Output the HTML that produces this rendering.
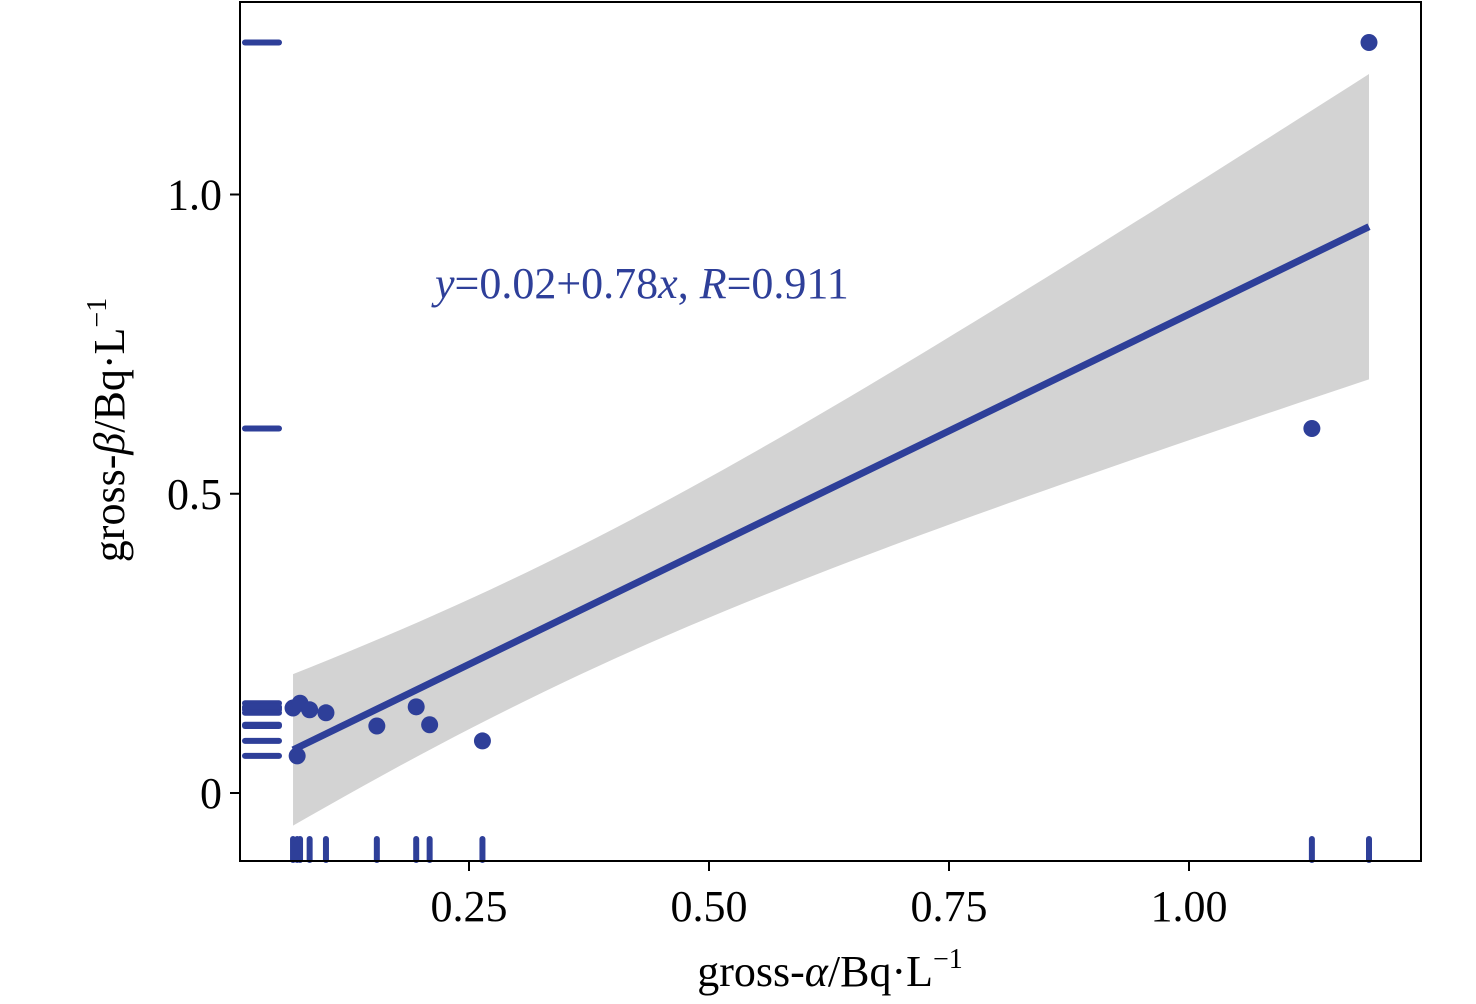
<!DOCTYPE html>
<html><head><meta charset="utf-8"><style>
html,body{margin:0;padding:0;background:#fff;}
svg{display:block;font-family:"Liberation Serif",serif;}
</style></head><body>
<svg id="chart" width="1476" height="1004" viewBox="0 0 1476 1004">
<g id="band"></g>
<g id="fit"></g>
<g id="rugs"></g>
<g id="pts"></g>
<rect x="240" y="2" width="1181" height="859" fill="none" stroke="#000" stroke-width="2"/>
<g id="axes"></g>
<text x="435" y="298" font-size="44" fill="#2e3f99"><tspan font-style="italic">y</tspan>=0.02+0.78<tspan font-style="italic">x</tspan>, <tspan font-style="italic">R</tspan>=0.911</text>
<text x="830" y="986" font-size="44" text-anchor="middle">gross-<tspan font-style="italic">α</tspan>/Bq·L<tspan font-size="28" dy="-18">−1</tspan></text>
<text transform="translate(124,430) rotate(-90)" font-size="44" text-anchor="middle">gross-<tspan font-style="italic">β</tspan>/Bq·L<tspan font-size="28" dy="-18">−1</tspan></text>
</svg>
<script>
const xs=[0.0667,0.074,0.084,0.101,0.071,0.154,0.195,0.209,0.264,1.128,1.1875];
const ys=[0.142,0.150,0.139,0.134,0.062,0.112,0.144,0.114,0.087,0.609,1.254];
const xTicks=[0.25,0.5,0.75,1.0];
const xTickLabels=["0.25","0.50","0.75","1.00"];
const yTicks=[0,0.5,1.0];
const yTickLabels=["0","0.5","1.0"];
const fitCoef=[0.02,0.78];
const bandCoef=[0.0114,0.0715];
const NS="http://www.w3.org/2000/svg";
const X=v=>229+v*960, Y=v=>793-v*598.5;
const col="#2e3f99";
function mk(t,a,p){const e=document.createElementNS(NS,t);for(const k in a)e.setAttribute(k,a[k]);p.appendChild(e);return e;}
const xmin=Math.min(...xs),xmax=Math.max(...xs);
const xbar=xs.reduce((a,b)=>a+b,0)/xs.length;
const f=x=>fitCoef[0]+fitCoef[1]*x;
const h=x=>Math.sqrt(bandCoef[0]+bandCoef[1]*(x-xbar)*(x-xbar));
let up=[],lo=[];
for(let i=0;i<=60;i++){const x=xmin+(xmax-xmin)*i/60;up.push(X(x)+","+Y(f(x)+h(x)));lo.unshift(X(x)+","+Y(f(x)-h(x)));}
const band=mk('polygon',{points:up.concat(lo).join(' '),fill:'#d3d3d3'},document.getElementById('band'));


const ln=mk('line',{x1:X(xmin),y1:Y(f(xmin)),x2:X(xmax),y2:Y(f(xmax)),stroke:col,'stroke-width':7},document.getElementById('fit'));


const rg=document.getElementById('rugs'),pg=document.getElementById('pts');
xs.forEach((x,i)=>{
 const r1=mk('line',{x1:X(x),x2:X(x),y1:839,y2:860,stroke:col,'stroke-width':6,'stroke-linecap':'round'},rg);
 
 
 const r2=mk('line',{x1:245,x2:279,y1:Y(ys[i]),y2:Y(ys[i]),stroke:col,'stroke-width':6,'stroke-linecap':'round'},rg);
 
 
 const c=mk('circle',{cx:X(x),cy:Y(ys[i]),r:8.5,fill:col},pg);
 
 
});
const ax=document.getElementById('axes');
xTicks.forEach((v,i)=>{
 const t=mk('line',{x1:X(v),x2:X(v),y1:861,y2:871,stroke:'#000','stroke-width':2},ax);
 
 
 const l=mk('text',{x:X(v),y:921,'font-size':44,'text-anchor':'middle'},ax);l.textContent=xTickLabels[i];
 
 
});
yTicks.forEach((v,i)=>{
 const t=mk('line',{x1:230,x2:240,y1:Y(v),y2:Y(v),stroke:'#000','stroke-width':2},ax);
 
 
 const l=mk('text',{x:222,y:Y(v)+15,'font-size':44,'text-anchor':'end'},ax);l.textContent=yTickLabels[i];
 
 
});
</script>
</body></html>
